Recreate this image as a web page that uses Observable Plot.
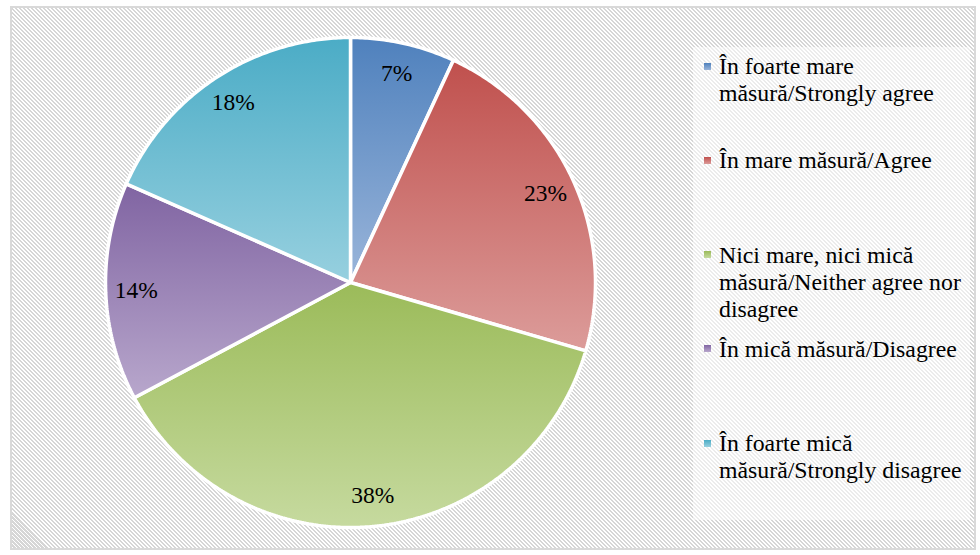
<!DOCTYPE html>
<html>
<head>
<meta charset="utf-8">
<script src="https://cdn.jsdelivr.net/npm/d3@7"></script>
<script src="https://cdn.jsdelivr.net/npm/@observablehq/plot@0.6"></script>
<style>
  html, body { margin: 0; padding: 0; background: #fff; }
  #chart {
    position: relative; width: 980px; height: 555px; overflow: hidden;
    font-family: "Liberation Serif", "Times New Roman", serif;
  }
  #frame {
    position: absolute; left: 10px; top: 6px; width: 966px; height: 544px;
    border: 2px solid #d9d9d9; box-sizing: border-box;
    background: repeating-linear-gradient(45deg, #ffffff 0px, #ffffff 1.4px, #d6d6d6 1.4px, #d6d6d6 2.83px);
  }
  #chart svg { position: absolute; left: 0; top: 0; }
  #legendbox {
    position: absolute; left: 693px; top: 47px; width: 277px; height: 473px;
    background: rgba(255,255,255,0.55);
  }
  #legend { position: absolute; left: 704px; top: 53px; }
  .item { position: relative; height: 94.3px; }
  .sw { position: absolute; left: 0; top: 9.5px; width: 7px; height: 7px; }
  .lab { position: absolute; left: 15px; top: 0; width: 255px; font-size: 23.8px; line-height: 27px; color: #000; font-family: "Liberation Serif", "Times New Roman", serif; }
</style>
</head>
<body>
<div id="chart">
  <div id="frame"></div>
  <div id="legendbox"></div>
  <div id="legend"></div>
</div>
<script>
const categories = [
  "În foarte mare măsură/Strongly agree",
  "În mare măsură/Agree",
  "Nici mare, nici mică măsură/Neither agree nor disagree",
  "În mică măsură/Disagree",
  "În foarte mică măsură/Strongly disagree"
];
const values = [6.9, 22.6, 37.7, 14.4, 18.4];
const labels = ["7%", "23%", "38%", "14%", "18%"];
const topColors = ["#4f81bd", "#c0504d", "#9bbb59", "#8064a2", "#4bacc6"];
const bottomColors = ["#9ab5da", "#dc9c9a", "#c6da9f", "#b8a7cc", "#97d0df"];

const arcs = d3.pie().sort(null).value(d => d)(values);

// polygon points per slice in unit coordinates (angle clockwise from 12 o'clock)
const polys = arcs.map((a, i) => {
  const pts = [{x: 0, y: 0, i}];
  const n = Math.max(8, Math.ceil((a.endAngle - a.startAngle) / 0.01));
  for (let k = 0; k <= n; k++) {
    const t = a.startAngle + (a.endAngle - a.startAngle) * k / n;
    pts.push({x: Math.sin(t), y: Math.cos(t), i});
  }
  return pts;
});

const labelData = arcs.map((a, i) => {
  const m = (a.startAngle + a.endAngle) / 2;
  const r = 0.875;
  return {x: r * Math.sin(m), y: r * Math.cos(m), text: labels[i]};
});

const marks = polys.map((pts, i) =>
  Plot.line(pts, {x: "x", y: "y", fill: `url(#grad${i})`, stroke: "white", strokeWidth: 3.5, strokeLinejoin: "miter", curve: "linear-closed"})
);
marks.push(Plot.text(labelData, {x: "x", y: "y", text: "text", fontSize: 23.5, fill: "black", fontFamily: "Liberation Serif, Times New Roman, serif"}));

const svg = Plot.plot({
  width: 980,
  height: 555,
  marginLeft: 105,
  marginRight: 385,
  marginTop: 37,
  marginBottom: 28,
  x: {domain: [-1, 1], axis: null},
  y: {domain: [-1, 1], axis: null},
  style: {background: "transparent", overflow: "visible", fontFamily: "Liberation Serif, Times New Roman, serif"},
  marks
});

const defs = d3.select(svg).insert("defs", ":first-child");
topColors.forEach((c, i) => {
  const g = defs.append("linearGradient").attr("id", `grad${i}`)
    .attr("x1", 0).attr("y1", 0).attr("x2", 0).attr("y2", 1);
  g.append("stop").attr("offset", "0%").attr("stop-color", c);
  g.append("stop").attr("offset", "100%").attr("stop-color", bottomColors[i]);
});

document.getElementById("chart").insertBefore(svg, document.getElementById("legendbox"));

const legend = d3.select("#legend");
categories.forEach((c, i) => {
  const it = legend.append("div").attr("class", "item");
  it.append("div").attr("class", "sw").style("background", `linear-gradient(${topColors[i]}, ${bottomColors[i]})`);
  it.append("div").attr("class", "lab").text(c);
});
</script>
</body>
</html>
